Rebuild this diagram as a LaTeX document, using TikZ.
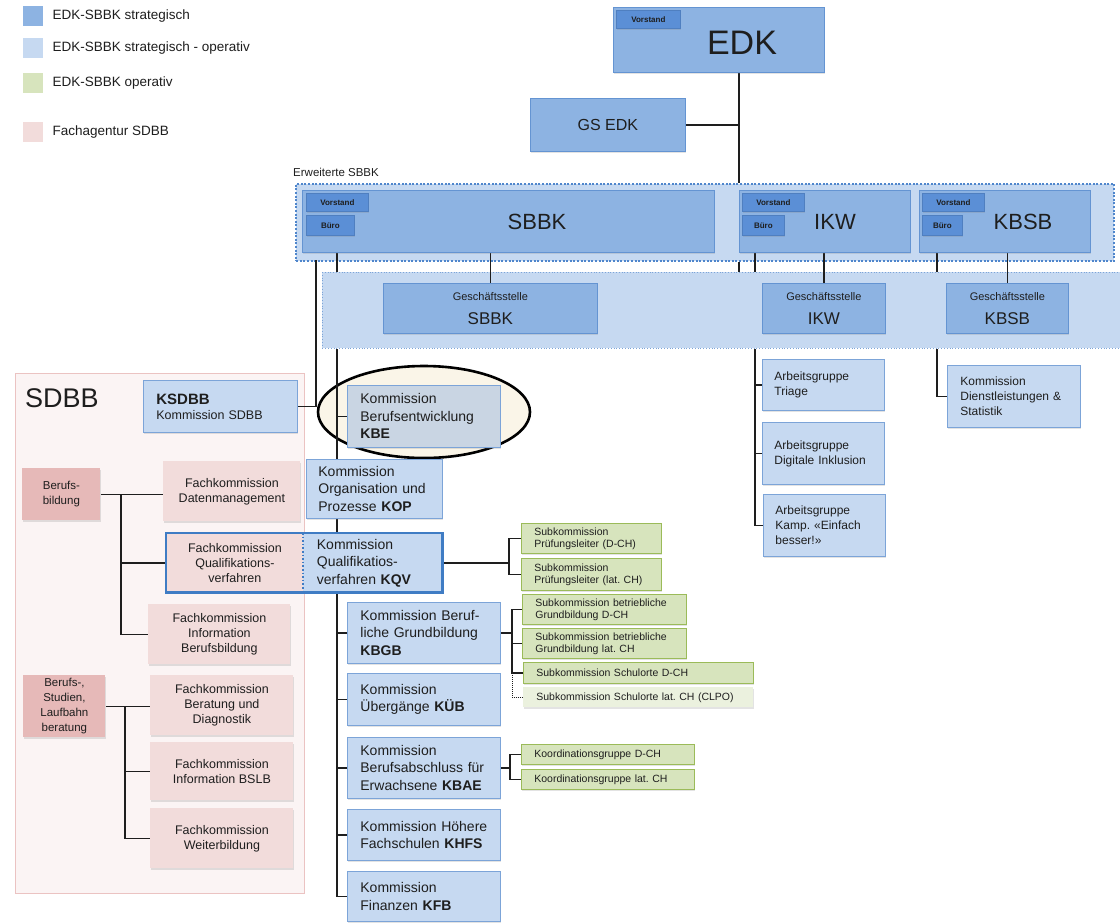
\documentclass[tikz,border=0pt]{standalone}
\usepackage{fontspec}
\setmainfont{Liberation Sans}
\usepackage{tikz}
\usetikzlibrary{positioning,shadows,shapes.geometric}
\definecolor{Ink}{HTML}{1E1E1E}
\definecolor{StratFill}{HTML}{8DB3E2}
\definecolor{StratLine}{HTML}{6494D2}
\definecolor{TabFill}{HTML}{5B8FD6}
\definecolor{TabLine}{HTML}{4F7FC0}
\definecolor{OpFill}{HTML}{C6D9F1}
\definecolor{OpLine}{HTML}{7CA4D8}
\definecolor{GreenFill}{HTML}{D7E4BD}
\definecolor{GreenLine}{HTML}{9BBB59}
\definecolor{GreenPale}{HTML}{EBF1DE}
\definecolor{PinkFill}{HTML}{F2DCDB}
\definecolor{PinkDark}{HTML}{E6B9B8}
\definecolor{SdbbFill}{HTML}{FBF4F4}
\definecolor{SdbbLine}{HTML}{EBC3C2}
\definecolor{EllFill}{HTML}{FAF5E8}
\definecolor{KbeFill}{HTML}{C9D5E3}
\definecolor{QvLine}{HTML}{3F7CC4}
\definecolor{DotLine}{HTML}{4F86CC}
\pgfdeclarelayer{back}
\pgfdeclarelayer{wires}
\pgfsetlayers{back,wires,main}
\frenchspacing

\begin{document}
\begin{tikzpicture}[x=1pt, y=-1pt,
  every node/.style={text=Ink},
  link/.style={draw=Ink, line width=1.6pt},
  twig/.style={draw=Ink, line width=1.2pt},
  sz/.style 2 args={minimum width=#1pt, minimum height=#2pt},
  box/.style={anchor=north west, inner sep=0pt, line width=0.8pt, align=center},
  shade/.style={drop shadow={shadow xshift=1pt, shadow yshift=-1.5pt, opacity=0.22}},
  strat/.style={box, shade, draw=StratLine, fill=StratFill},
  tab/.style={box, shade, draw=TabLine, fill=TabFill, font=\bfseries\fontsize{8}{9}\selectfont},
  big/.style={font=\fontsize{22}{24}\selectfont},
  gs/.style={strat, font=\fontsize{11}{13}\selectfont, yshift=2pt},
  oper/.style={box, shade, draw=OpLine, fill=OpFill},
  kom/.style={oper, align=left, inner xsep=13pt, text width=127pt, minimum width=153pt,
    minimum height=#1pt, font=\fontsize{14}{17.5}\selectfont},
  komn/.style={oper, align=left, inner xsep=12pt, text width=112pt, font=\fontsize{14}{17.5}\selectfont},
  ag/.style={oper, align=left, inner xsep=12pt, text width=98pt, font=\fontsize{12}{15}\selectfont},
  sub/.style={box, shade, draw=GreenLine, fill=GreenFill, align=left, inner xsep=13pt,
    font=\fontsize{10.5}{12}\selectfont},
  fach/.style={box, shade, fill=PinkFill, font=\fontsize{12.5}{15}\selectfont},
  ber/.style={box, shade, fill=PinkDark, font=\fontsize{11.5}{15}\selectfont},
  legsq/.style={anchor=north west, inner sep=0pt, minimum size=20pt},
  legtxt/.style={font=\fontsize{13.5}{15}\selectfont, inner sep=0pt}]
  \useasboundingbox (0,0) rectangle (1120,922);

  % legend
  \foreach \i/\yy/\c/\t in {1/6/StratFill/EDK-SBBK strategisch,
      2/38/OpFill/EDK-SBBK strategisch - operativ,
      3/73/GreenFill/EDK-SBBK operativ,
      4/122/PinkFill/Fachagentur SDBB}{
    \node[legsq, fill=\c] (leg\i) at (23,\yy) {};
    \node[legtxt, right=9pt of leg\i] (legt\i) {\t};
  }

  % areas behind everything
  \begin{pgfonlayer}{back}
    \node[box, draw=SdbbLine, fill=SdbbFill, sz={289}{520}] (sdbb) at (15,373) {};
    \node[box, draw=DotLine, fill=OpFill, line width=2.4pt, dash pattern=on 2pt off 1.6pt,
      sz={818}{77}] (erw) at (295,183) {};
    \node[box, draw=OpLine, fill=OpFill, dotted, sz={805}{76}] (band) at (322,272) {};
    \node[ellipse, draw=black, line width=2.6pt, fill=EllFill, minimum width=212pt,
      minimum height=92pt] (ring) at (424,412) {};
  \end{pgfonlayer}

  % EDK
  \node[strat, sz={211}{65}] (edk) at (613,7) {};
  \node[tab, sz={64}{18}] (edkv) at (616,10) {Vorstand};
  \node[font=\fontsize{34}{36}\selectfont] (edkt) at (742,43) {EDK};
  \node[strat, sz={155}{53}, font=\fontsize{16}{18}\selectfont] (gsedk) at (530,98) {GS EDK};

  % Erweiterte SBBK
  \node[font=\fontsize{11.5}{13}\selectfont, anchor=west, inner sep=0pt] (erwt) at (293,172) {Erweiterte SBBK};
  \node[strat, sz={412}{62}] (sbbk) at (302,190) {};
  \node[tab, sz={62}{18}] (sbbkv) at (306,193) {Vorstand};
  \node[tab, sz={48}{20}] (sbbkb) at (306,215) {Büro};
  \node[big] (sbbkt) at (537,222) {SBBK};
  \node[strat, sz={171}{62}] (ikw) at (739,190) {};
  \node[tab, sz={62}{18}] (ikwv) at (742,193) {Vorstand};
  \node[tab, sz={42}{20}] (ikwb) at (742,215) {Büro};
  \node[big] (ikwt) at (835,222) {IKW};
  \node[strat, sz={171}{62}] (kbsb) at (919,190) {};
  \node[tab, sz={62}{18}] (kbsbv) at (922,193) {Vorstand};
  \node[tab, sz={40}{20}] (kbsbb) at (922,215) {Büro};
  \node[big] (kbsbt) at (1023,222) {KBSB};

  % Geschaeftsstellen
  \node[strat, sz={214}{50}, font=\fontsize{11}{13}\selectfont] (gssbbk) at (383,283)
    {Geschäftsstelle\\[11pt]{\fontsize{17}{18}\selectfont SBBK}};
  \node[strat, sz={123}{50}, font=\fontsize{11}{13}\selectfont] (gsikw) at (762,283)
    {Geschäftsstelle\\[11pt]{\fontsize{17}{18}\selectfont IKW}};
  \node[strat, sz={122}{50}, font=\fontsize{11}{13}\selectfont] (gskbsb) at (946,283)
    {Geschäftsstelle\\[11pt]{\fontsize{17}{18}\selectfont KBSB}};

  % Arbeitsgruppen IKW, Kommission KBSB
  \node[ag, sz={122}{51}] (agt) at (762,359) {Arbeitsgruppe\\Triage};
  \node[ag, sz={122}{62}] (agd) at (762,422) {Arbeitsgruppe\\Digitale Inklusion};
  \node[ag, sz={122}{62}] (agk) at (763,494) {Arbeitsgruppe\\Kamp. «Einfach\\besser!»};
  \node[ag, text width=107pt, inner xsep=13pt, sz={133}{62}] (kds) at (947,365)
    {Kommission\\Dienstleistungen \&\\Statistik};

  % SDBB
  \node[font=\fontsize{27}{30}\selectfont] (sdbbt) at (62,398) {SDBB};
  \node[oper, align=left, inner xsep=13pt, text width=128pt, sz={154}{52},
    font=\fontsize{12.5}{15}\selectfont] (ksdbb) at (143,380)
    {{\fontsize{15}{17}\selectfont\bfseries KSDBB}\\Kommission SDBB};
  \node[ber, sz={78}{52}] (bb) at (22,468) {Berufs-\\bildung};
  \node[fach, sz={137}{60}] (fkd) at (163,461) {Fachkommission\\Datenmanagement};
  \node[fach, sz={137}{59}] (fkq) at (166,533) {Fachkommission\\Qualifikations-\\verfahren};
  \node[fach, sz={142}{60}] (fki) at (148,604) {Fachkommission\\Information\\Berufsbildung};
  \node[ber, sz={82}{62}] (bslb) at (23,675) {Berufs-,\\Studien,\\Laufbahn\\beratung};
  \node[fach, sz={143}{60}] (fkb) at (150,675) {Fachkommission\\Beratung und\\Diagnostik};
  \node[fach, sz={143}{58}] (fkib) at (150,742) {Fachkommission\\Information BSLB};
  \node[fach, sz={143}{60}] (fkw) at (150,808) {Fachkommission\\Weiterbildung};

  % Kommissionen SBBK
  \node[kom=62, fill=KbeFill] (kbe) at (347,385) {Kommission\\Berufsentwicklung\\\textbf{KBE}};
  \node[komn, sz={136}{59}] (kop) at (306,459) {Kommission\\Organisation und\\Prozesse \textbf{KOP}};
  \node[komn, draw=none, sz={139}{59}] (kqv) at (303,533) {Kommission\\Qualifikatios-\\verfahren \textbf{KQV}};
  \draw[QvLine, line width=2.8pt] (fkq.north west) rectangle (kqv.south east);
  \draw[QvLine, line width=1.6pt, dotted] (kqv.north west) -- (kqv.south west);
  \node[kom=61] (kbgb) at (347,602) {Kommission Beruf-\\liche Grundbildung\\\textbf{KBGB}};
  \node[kom=52] (kub) at (347,673) {Kommission\\Übergänge \textbf{KÜB}};
  \node[kom=61] (kbae) at (347,737) {Kommission\\Berufsabschluss für\\Erwachsene \textbf{KBAE}};
  \node[kom=51] (khfs) at (347,809) {Kommission Höhere\\Fachschulen \textbf{KHFS}};
  \node[kom=50] (kfb) at (347,871) {Kommission\\Finanzen \textbf{KFB}};

  % Subkommissionen
  \node[sub, text width=114pt, sz={140}{30}] (spd) at (521,523) {Subkommission\\Prüfungsleiter (D-CH)};
  \node[sub, text width=114pt, sz={140}{32}] (spl) at (521,558) {Subkommission\\Prüfungsleiter (lat. CH)};
  \node[sub, text width=138pt, sz={164}{30}] (sbd) at (522,594) {Subkommission betriebliche\\Grundbildung D-CH};
  \node[sub, text width=138pt, sz={164}{30}] (sbl) at (522,628) {Subkommission betriebliche\\Grundbildung lat. CH};
  \node[sub, text width=204pt, sz={230}{21}] (ssd) at (523,662) {Subkommission Schulorte D-CH};
  \node[sub, draw=none, fill=GreenPale, text width=204pt, sz={230}{20}] (ssl) at (523,687)
    {Subkommission Schulorte lat. CH (CLPO)};
  \node[sub, text width=147pt, sz={173}{20}] (kgd) at (521,744) {Koordinationsgruppe D-CH};
  \node[sub, text width=147pt, sz={173}{20}] (kgl) at (521,769) {Koordinationsgruppe lat. CH};

  % connectors
  \begin{pgfonlayer}{wires}
    \coordinate (col) at (337,252);
    \coordinate (ksx) at (316,260);
    \coordinate (agx) at (755,252);
    \coordinate (dsx) at (937,252);
    \coordinate (bbj) at (121,494);
    \coordinate (blj) at (125,706);
    \coordinate (qvj) at (509,555);
    \coordinate (gbj) at (512,632);
    \coordinate (aej) at (510,767);

    \draw[link] (edk.south -| ikw.north west) -- (erw.north -| ikw.north west);
    \draw[link] (gsedk.east) -- (gsedk.east -| ikw.north west);
    \draw[link] (erw.south -| ikw.north west) -- (band.north -| ikw.north west);
    \foreach \a/\b in {gssbbk/sbbk, gsikw/ikw, gskbsb/kbsb}
      \draw[link] (\a.north) -- (\a.north |- \b.south);

    \draw[link] (col) -- (col |- band.north);
    \draw[link] (col |- band.south) -- (col |- kfb.west) -- (kfb.west);
    \foreach \k in {kbe, kbgb, kub, kbae, khfs}
      \draw[link] (col |- \k.west) -- (\k.west);
    \draw[link] (ksx) -- (ksx |- ksdbb.east) -- (ksdbb.east);

    \draw[link] (agx) -- (agx |- band.north);
    \draw[link] (agx |- band.south) -- (agx |- agk.west) -- (agk.west);
    \draw[link] (agx |- agt.west) -- (agt.west);
    \draw[link] (agx |- agd.west) -- (agd.west);
    \draw[link] (dsx) -- (dsx |- band.north);
    \draw[link] (dsx |- band.south) -- (dsx |- kds.west) -- (kds.west);

    \draw[link] (bb.east) -- (bb.east -| fkd.west);
    \draw[link] (bbj) -- (bbj |- fki.west) -- (fki.west);
    \draw[link] (bbj |- fkq.west) -- (fkq.west);
    \draw[link] (bslb.east) -- (bslb.east -| fkb.west);
    \draw[link] (blj) -- (blj |- fkw.west) -- (fkw.west);
    \draw[link] (blj |- fkib.west) -- (fkib.west);

    \draw[twig] (kqv.east) -- (kqv.east -| qvj);
    \draw[twig] (spd.west) -- (spd.west -| qvj) -- (spl.west -| qvj) -- (spl.west);
    \draw[twig] (kbgb.east) -- (kbgb.east -| gbj);
    \draw[twig] (sbd.west) -- (sbd.west -| gbj) -- (ssd.west -| gbj) -- (ssd.west);
    \draw[twig] (sbl.west -| gbj) -- (sbl.west);
    \draw[twig, line width=1pt, densely dotted] (ssd.west -| gbj) -- (ssl.west -| gbj) -- (ssl.west);
    \draw[twig] (kbae.east) -- (kbae.east -| aej);
    \draw[twig] (kgd.west) -- (kgd.west -| aej) -- (kgl.west -| aej) -- (kgl.west);
  \end{pgfonlayer}
\end{tikzpicture}
\end{document}
